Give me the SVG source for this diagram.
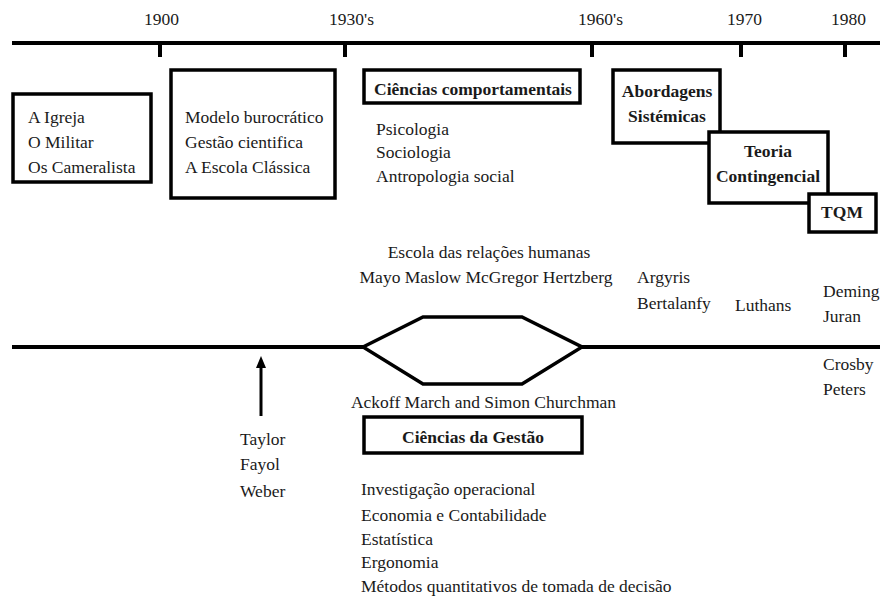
<svg xmlns="http://www.w3.org/2000/svg" width="880" height="598" viewBox="0 0 880 598" font-family="'Liberation Serif', serif">
<defs>
<style>
text{font-family:'Liberation Serif','Times New Roman',serif;font-size:17.5px;fill:#1a1a1a}
.b{font-weight:bold}
.c{text-anchor:middle}
.box{fill:#fff;stroke:#000;stroke-width:3.5}
.ln{stroke:#000;stroke-width:4;fill:none}
.hx{stroke:#000;stroke-width:3.5;fill:none}
</style>
</defs>
<g id="connectors">
<line class="ln" x1="12" y1="43" x2="880" y2="43"/>
<line class="ln" x1="160" y1="43" x2="160" y2="57"/>
<line class="ln" x1="345" y1="43" x2="345" y2="57"/>
<line class="ln" x1="592" y1="43" x2="592" y2="57"/>
<line class="ln" x1="741" y1="43" x2="741" y2="57"/>
<line class="ln" x1="845" y1="43" x2="845" y2="57"/>
<line class="ln" x1="12" y1="347" x2="364" y2="347"/>
<line class="ln" x1="581" y1="347" x2="880" y2="347"/>
<polygon class="hx" points="363,347 423,317 522,317 582,347 522,384 423,384"/>
<line stroke="#000" stroke-width="3" x1="261" y1="416" x2="261" y2="366"/>
<path d="M261,356 L256,368 L266,368 Z" fill="#000"/>
</g>
<g id="years">
<text x="161.5" y="25" class="c">1900</text>
<text x="351.5" y="25" class="c">1930's</text>
<text x="600.5" y="25" class="c">1960's</text>
<text x="744.5" y="25" class="c">1970</text>
<text x="848.5" y="25" class="c">1980</text>
</g>
<g id="n-igreja">
<rect class="box" x="13" y="94" width="138" height="88"/>
<text x="28" y="123">A Igreja</text>
<text x="28" y="148">O Militar</text>
<text x="28" y="173">Os Cameralista</text>
</g>
<g id="n-modelo">
<rect class="box" x="171" y="70" width="164" height="128"/>
<text x="185" y="123">Modelo burocrático</text>
<text x="185" y="148">Gestão cientifica</text>
<text x="185" y="173">A Escola Clássica</text>
</g>
<g id="n-comport">
<rect class="box" x="364" y="70" width="216" height="33"/>
<text x="473" y="95" class="c b">Ciências comportamentais</text>
</g>
<g id="n-comport-list">
<text x="376" y="135">Psicologia</text>
<text x="376" y="158">Sociologia</text>
<text x="376" y="182">Antropologia social</text>
</g>
<g id="n-abord">
<rect class="box" x="613" y="70" width="107" height="73" stroke-width="4"/>
<text x="667" y="97" class="c b">Abordagens</text>
<text x="667" y="122" class="c b">Sistémicas</text>
</g>
<g id="n-teoria">
<rect class="box" x="709" y="132" width="119" height="71" stroke-width="4"/>
<text x="768" y="157" class="c b">Teoria</text>
<text x="768" y="182" class="c b">Contingencial</text>
</g>
<g id="n-tqm">
<rect class="box" x="809" y="194" width="67" height="38" stroke-width="4"/>
<text x="842" y="218" class="c b">TQM</text>
</g>
<g id="n-relacoes">
<text x="489" y="258" class="c">Escola das relações humanas</text>
<text x="486" y="283" class="c">Mayo Maslow McGregor Hertzberg</text>
</g>
<g id="n-argyris">
<text x="637" y="283">Argyris</text>
<text x="637" y="309">Bertalanfy</text>
</g>
<g id="n-luthans">
<text x="735" y="311">Luthans</text>
</g>
<g id="n-deming">
<text x="823" y="297">Deming</text>
<text x="823" y="322">Juran</text>
<text x="823" y="370">Crosby</text>
<text x="823" y="395">Peters</text>
</g>
<g id="n-ackoff">
<text x="483.5" y="408" class="c">Ackoff March and Simon Churchman</text>
</g>
<g id="n-gestao">
<rect class="box" x="364" y="417" width="218" height="36"/>
<text x="473" y="443" class="c b">Ciências da Gestão</text>
</g>
<g id="n-taylor">
<text x="240" y="445">Taylor</text>
<text x="240" y="470">Fayol</text>
<text x="240" y="497">Weber</text>
</g>
<g id="n-gestao-list">
<text x="361" y="495">Investigação operacional</text>
<text x="361" y="521">Economia e Contabilidade</text>
<text x="361" y="545">Estatística</text>
<text x="361" y="568">Ergonomia</text>
<text x="361" y="592">Métodos quantitativos de tomada de decisão</text>
</g>
</svg>
